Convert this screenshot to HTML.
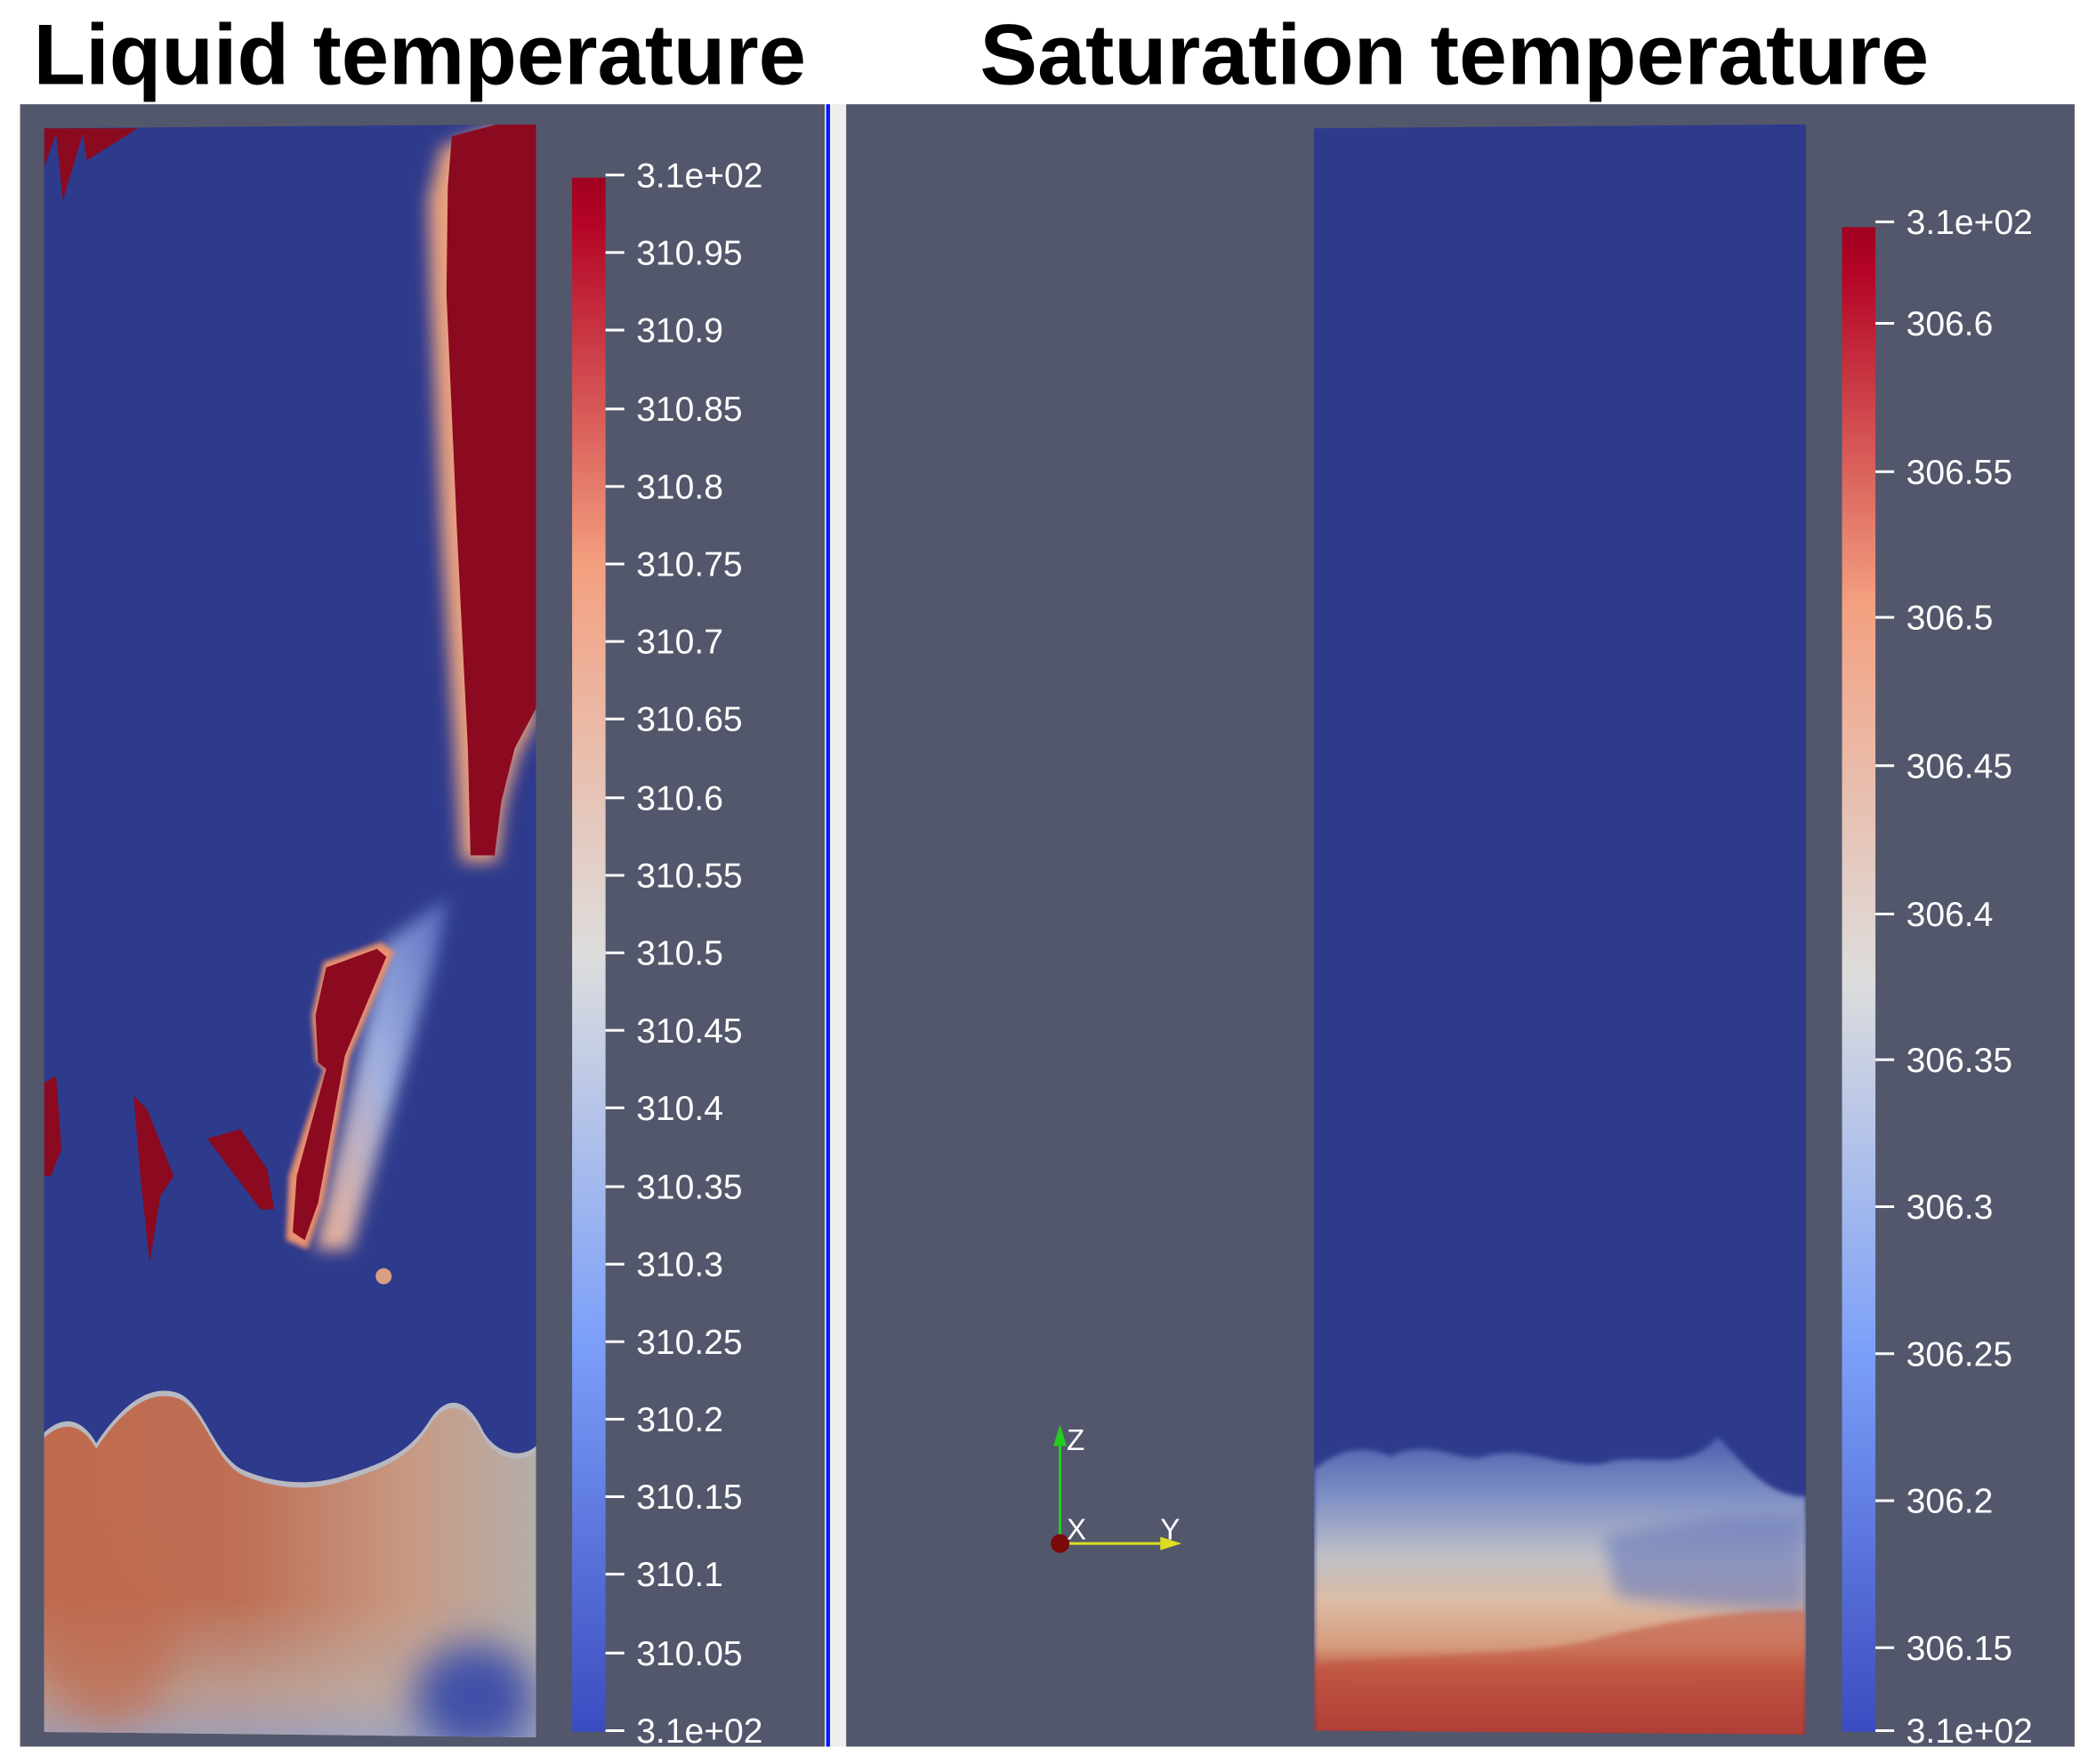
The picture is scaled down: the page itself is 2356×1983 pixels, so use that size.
<!DOCTYPE html>
<html><head><meta charset="utf-8"><style>
html,body{margin:0;padding:0;background:#fff;}
svg{display:block;}
text{font-family:"Liberation Sans",sans-serif;}
</style></head><body>
<svg width="2356" height="1983" viewBox="0 0 1568 1320" preserveAspectRatio="none" xmlns="http://www.w3.org/2000/svg">
<defs>
<linearGradient id="cw" x1="0" y1="1" x2="0" y2="0">
<stop offset="0" stop-color="#3b4cc0"/><stop offset="0.25" stop-color="#7b9ff9"/>
<stop offset="0.5" stop-color="#dddddd"/><stop offset="0.75" stop-color="#f4a080"/>
<stop offset="0.97" stop-color="#b40426"/><stop offset="1" stop-color="#a00020"/></linearGradient>
<linearGradient id="lh" x1="0" y1="0" x2="1" y2="0">
<stop offset="0" stop-color="#c06a4e"/><stop offset="0.4" stop-color="#be6f55"/>
<stop offset="0.75" stop-color="#c89a84"/><stop offset="1" stop-color="#b4aeaa"/></linearGradient>
<linearGradient id="lv" x1="0" y1="0" x2="0" y2="1">
<stop offset="0" stop-color="#b8b4b2" stop-opacity="0"/><stop offset="0.6" stop-color="#b8b4b2" stop-opacity="0"/>
<stop offset="0.85" stop-color="#b8b4b2" stop-opacity="0.6"/><stop offset="1" stop-color="#9aa6c8" stop-opacity="0.85"/></linearGradient>
<linearGradient id="rv" x1="0" y1="0" x2="0" y2="1">
<stop offset="0" stop-color="#4d5fae"/><stop offset="0.2" stop-color="#7f90c6"/>
<stop offset="0.4" stop-color="#c0c0c6"/><stop offset="0.55" stop-color="#dcbca4"/>
<stop offset="0.7" stop-color="#d69a7c"/><stop offset="0.78" stop-color="#c05a45"/>
<stop offset="1" stop-color="#98202a"/></linearGradient>
<linearGradient id="streak" x1="0" y1="1" x2="1" y2="0">
<stop offset="0" stop-color="#f0b090"/><stop offset="0.5" stop-color="#9fb0e0"/><stop offset="1" stop-color="#5a6cc0"/></linearGradient>
<filter id="b2" x="-50%" y="-50%" width="200%" height="200%"><feGaussianBlur stdDeviation="2"/></filter>
<filter id="b6" x="-50%" y="-50%" width="200%" height="200%"><feGaussianBlur stdDeviation="6"/></filter>
<filter id="b15" x="-50%" y="-50%" width="200%" height="200%"><feGaussianBlur stdDeviation="15"/></filter>
<clipPath id="cl"><polygon points="33,96 401,93 401,1300 33,1296"/></clipPath>
<clipPath id="cr"><polygon points="983,96 1351,93 1351,1298 983,1295"/></clipPath>
</defs>
<rect width="1568" height="1320" fill="#fff"/>
<text x="25" y="63" font-size="64" font-weight="bold" textLength="578" lengthAdjust="spacingAndGlyphs">Liquid temperature</text>
<text x="733" y="63" font-size="64" font-weight="bold" textLength="710" lengthAdjust="spacingAndGlyphs">Saturation temperature</text>
<rect x="15" y="78" width="602" height="1229" fill="#52576b"/>
<rect x="617" y="78" width="4" height="1229" fill="#eee"/>
<rect x="618" y="78" width="3" height="1229" fill="#0a1aff"/>
<rect x="621" y="78" width="12" height="1229" fill="#eee"/>
<rect x="633" y="78" width="919" height="1229" fill="#52576b"/>

<g clip-path="url(#cl)">
<rect x="30" y="90" width="375" height="1215" fill="#2e3a8c"/>
<polygon points="33,96 103,96 65,120 62,100 47,150 42,100 33,125" fill="#8b0a1f"/>
<path d="M320,150 L330,110 L372,93 L401,93 L401,540 L388,565 L378,600 L372,645 L345,645 L340,560 L330,400 L322,220 Z" fill="#e8a080" filter="url(#b6)"/>
<path d="M335,140 L338,102 L372,93 L401,93 L401,530 L385,560 L375,600 L370,640 L352,640 L350,560 L342,400 L334,220 Z" fill="#8b0a1f"/>
<polygon points="288,705 335,672 325,720 262,935 236,935" fill="url(#streak)" filter="url(#b6)"/>
<path d="M233,760 L242,720 L285,705 L295,712 L262,790 L242,900 L230,935 L214,928 L216,880 L242,800 L236,795 Z" fill="#e89070" filter="url(#b2)"/>
<path d="M236,760 L244,724 L282,710 L289,716 L258,790 L238,900 L228,928 L219,922 L222,880 L244,800 L238,795 Z" fill="#8b0a1f"/>
<path d="M33,810 L42,805 L46,860 L38,880 L33,880 Z" fill="#8b0a1f"/>
<path d="M100,820 L110,830 L130,880 L120,895 L112,945 L105,880 Z" fill="#8b0a1f"/>
<path d="M155,852 L180,845 L200,875 L205,905 L195,905 Z" fill="#8b0a1f"/>
<circle cx="287" cy="955" r="6" fill="#d8a080"/>
<path d="M33,1072 C48,1058 62,1062 72,1080 C92,1050 112,1036 132,1042 C152,1048 160,1090 182,1100 C205,1110 230,1112 255,1105 C282,1096 305,1090 322,1062 C337,1040 352,1050 362,1072 C372,1088 390,1092 401,1082 L401,1300 L33,1300 Z" fill="#b8b8c0"/>
<path d="M33,1076 C48,1062 62,1066 72,1084 C92,1054 112,1040 132,1046 C152,1052 160,1094 182,1104 C205,1114 230,1116 255,1109 C282,1100 305,1094 322,1066 C337,1044 352,1054 362,1076 C372,1092 390,1096 401,1086 L401,1300 L33,1300 Z" fill="url(#lh)"/>
<rect x="33" y="1040" width="370" height="262" fill="url(#lv)"/>
<ellipse cx="80" cy="1230" rx="50" ry="60" fill="#c06a50" opacity="0.7" filter="url(#b15)"/>
<ellipse cx="355" cy="1270" rx="45" ry="40" fill="#3f50a8" filter="url(#b15)"/>
</g>
<rect x="428" y="133" width="25" height="1163" fill="url(#cw)"/>
<g stroke="#fff" stroke-width="2">
<line x1="453" y1="131" x2="467" y2="131"/><line x1="453" y1="189" x2="467" y2="189"/><line x1="453" y1="247" x2="467" y2="247"/>
<line x1="453" y1="306" x2="467" y2="306"/><line x1="453" y1="364" x2="467" y2="364"/><line x1="453" y1="422" x2="467" y2="422"/>
<line x1="453" y1="480" x2="467" y2="480"/><line x1="453" y1="538" x2="467" y2="538"/><line x1="453" y1="597" x2="467" y2="597"/>
<line x1="453" y1="655" x2="467" y2="655"/><line x1="453" y1="713" x2="467" y2="713"/><line x1="453" y1="771" x2="467" y2="771"/>
<line x1="453" y1="829" x2="467" y2="829"/><line x1="453" y1="888" x2="467" y2="888"/><line x1="453" y1="946" x2="467" y2="946"/>
<line x1="453" y1="1004" x2="467" y2="1004"/><line x1="453" y1="1062" x2="467" y2="1062"/><line x1="453" y1="1120" x2="467" y2="1120"/>
<line x1="453" y1="1178" x2="467" y2="1178"/><line x1="453" y1="1237" x2="467" y2="1237"/><line x1="453" y1="1295" x2="467" y2="1295"/>
</g>
<g fill="#fff" font-size="26">
<text x="476" y="140">3.1e+02</text><text x="476" y="198">310.95</text><text x="476" y="256">310.9</text>
<text x="476" y="315">310.85</text><text x="476" y="373">310.8</text><text x="476" y="431">310.75</text>
<text x="476" y="489">310.7</text><text x="476" y="547">310.65</text><text x="476" y="606">310.6</text>
<text x="476" y="664">310.55</text><text x="476" y="722">310.5</text><text x="476" y="780">310.45</text>
<text x="476" y="838">310.4</text><text x="476" y="897">310.35</text><text x="476" y="955">310.3</text>
<text x="476" y="1013">310.25</text><text x="476" y="1071">310.2</text><text x="476" y="1129">310.15</text>
<text x="476" y="1187">310.1</text><text x="476" y="1246">310.05</text><text x="476" y="1304">3.1e+02</text>
</g>

<g clip-path="url(#cr)">
<rect x="980" y="90" width="375" height="1215" fill="#2e3a8c"/>
<path d="M983,1100 C1000,1085 1020,1080 1040,1090 C1070,1075 1090,1095 1110,1090 C1140,1080 1170,1100 1200,1095 C1230,1085 1260,1105 1285,1075 C1300,1090 1320,1120 1351,1120 L1351,1300 L983,1300 Z" fill="url(#rv)" filter="url(#b2)"/>
<path d="M1200,1150 C1250,1140 1300,1130 1351,1135 L1351,1205 C1300,1205 1250,1200 1210,1195 Z" fill="#6677bb" opacity="0.6" filter="url(#b6)"/>
<path d="M983,1245 C1050,1238 1150,1240 1200,1225 C1260,1210 1300,1205 1351,1205 L1351,1300 L983,1300 Z" fill="#c2553f" opacity="0.55" filter="url(#b2)"/>
</g>
<rect x="1378" y="170" width="25" height="1126" fill="url(#cw)"/>
<g stroke="#fff" stroke-width="2">
<line x1="1403" y1="166" x2="1417" y2="166"/><line x1="1403" y1="242" x2="1417" y2="242"/><line x1="1403" y1="353" x2="1417" y2="353"/>
<line x1="1403" y1="462" x2="1417" y2="462"/><line x1="1403" y1="573" x2="1417" y2="573"/><line x1="1403" y1="684" x2="1417" y2="684"/>
<line x1="1403" y1="793" x2="1417" y2="793"/><line x1="1403" y1="903" x2="1417" y2="903"/><line x1="1403" y1="1013" x2="1417" y2="1013"/>
<line x1="1403" y1="1123" x2="1417" y2="1123"/><line x1="1403" y1="1233" x2="1417" y2="1233"/><line x1="1403" y1="1295" x2="1417" y2="1295"/>
</g>
<g fill="#fff" font-size="26">
<text x="1426" y="175">3.1e+02</text><text x="1426" y="251">306.6</text><text x="1426" y="362">306.55</text>
<text x="1426" y="471">306.5</text><text x="1426" y="582">306.45</text><text x="1426" y="693">306.4</text>
<text x="1426" y="802">306.35</text><text x="1426" y="912">306.3</text><text x="1426" y="1022">306.25</text>
<text x="1426" y="1132">306.2</text><text x="1426" y="1242">306.15</text><text x="1426" y="1304">3.1e+02</text>
</g>
<line x1="793" y1="1155" x2="793" y2="1078" stroke="#22cc22" stroke-width="2"/>
<polygon points="788,1082 798,1082 793,1066" fill="#22cc22"/>
<line x1="793" y1="1155" x2="872" y2="1155" stroke="#dddd22" stroke-width="2"/>
<polygon points="868,1150 868,1160 884,1155" fill="#dddd22"/>
<circle cx="793" cy="1155" r="7" fill="#7a0a0a"/>
<text x="798" y="1085" fill="#fff" font-size="22">Z</text>
<text x="798" y="1152" fill="#fff" font-size="22">X</text>
<text x="868" y="1152" fill="#fff" font-size="22">Y</text>
</svg>
</body></html>
